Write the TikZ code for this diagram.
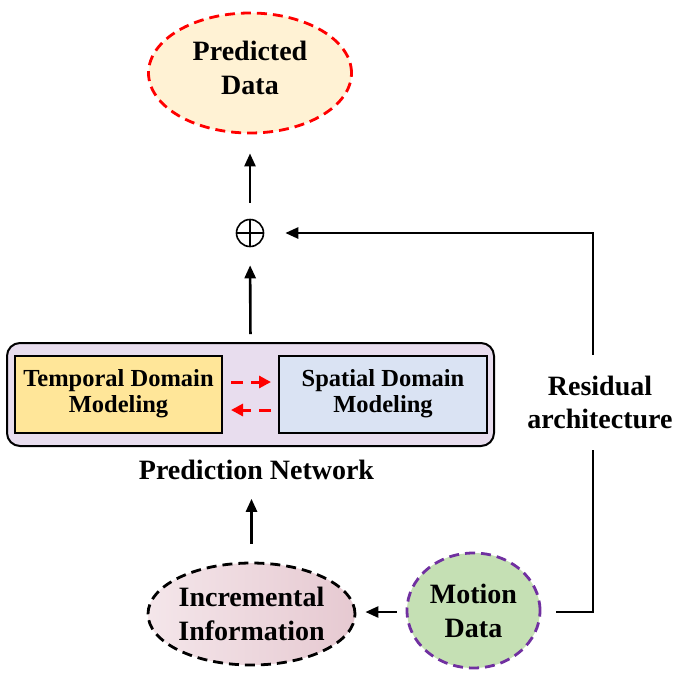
\documentclass[tikz,border=0pt]{standalone}
\usepackage{fontspec}
\setmainfont{Liberation Serif}
\usetikzlibrary{shapes.geometric,arrows.meta}
\definecolor{cream}{HTML}{FFF2D4}
\definecolor{gold}{HTML}{FFE699}
\definecolor{paleblue}{HTML}{DAE3F3}
\definecolor{lav}{HTML}{E8DDEE}
\definecolor{palegreen}{HTML}{C5E0B4}
\definecolor{pinkL}{HTML}{F4E6EA}
\definecolor{pinkR}{HTML}{E6C9D1}
\definecolor{purp}{HTML}{7030A0}
\begin{document}
\begin{tikzpicture}[x=1pt,y=-1pt,
  arr/.style={line width=2.6pt,line join=miter,-{Triangle[length=13pt,width=11pt]}},
  redarr/.style={line width=3pt,draw=red,dash pattern=on 12pt off 8pt,-{Triangle[length=12pt,width=12pt]}},
  ell/.style={ellipse,inner sep=0pt,line width=2.8pt,align=center,font=\fontsize{28}{34}\selectfont\bfseries},
  boxs/.style={draw,line width=2pt,minimum width=207pt,minimum height=77pt,inner sep=0pt,align=center,font=\fontsize{24.5}{26}\selectfont\bfseries},
  lbl/.style={align=center,font=\fontsize{28}{33}\selectfont\bfseries}]
\useasboundingbox (0,0) rectangle (698,673);
% top ellipse
\node[ell,draw=red,dash pattern=on 10pt off 6pt,fill=cream,minimum width=203pt,minimum height=120pt,text depth=11pt] (pred) at (250,73) {Predicted\\Data};
% plus
\node[circle,draw,line width=1.6pt,minimum size=27pt,inner sep=0pt] (plus) at (250,233) {};
\draw[line width=1.6pt] (plus.north) -- (plus.south) (plus.west) -- (plus.east);
% network box
\node[draw,rounded corners=13pt,fill=lav,line width=2pt,minimum width=487pt,minimum height=103pt] (net) at (250.5,394.5) {};
\node[boxs,fill=gold] (temp) at (118.5,394) {Temporal Domain\\Modeling};
\node[boxs,fill=paleblue,minimum width=208pt] (spat) at (383,394) {Spatial Domain\\Modeling};
\draw[redarr] ([xshift=8pt,yshift=12pt]temp.east) -- ([xshift=-7pt,yshift=12pt]spat.west);
\draw[redarr] ([xshift=-7pt,yshift=-16pt]spat.west) -- ([xshift=8pt,yshift=-16pt]temp.east);
\node[lbl,anchor=base] (pnl) at (256.5,479) {Prediction Network};
% bottom ellipses
\node[ell,draw=black,dash pattern=on 10pt off 6pt,left color=pinkL,right color=pinkR,minimum width=207pt,minimum height=102pt] (incr) at (251.5,614) {Incremental\\Information};
\node[ell,draw=purp,dash pattern=on 10pt off 6pt,fill=palegreen,minimum width=133pt,minimum height=115pt] (motion) at (473.5,610.5) {Motion\\Data};
% residual label
\node[lbl,fill=white,inner sep=0pt,minimum height=95pt] (res) at (600,402.5) {Residual\\architecture};
\coordinate (c1) at (593,612);
\coordinate (c2) at (593,233);
% connectors
\draw[arr,shorten <=16pt,shorten >=19pt] (plus.north) -- (pred.south);
\draw[arr,shorten <=8pt,shorten >=18pt] (net.north) -- (plus.south);
\draw[arr,shorten <=18pt,shorten >=16pt] (incr.north) -- (incr.north |- pnl.south);
\draw[arr,shorten <=9pt,shorten >=9pt] (motion.west |- c1) -- (c1 -| incr.east);
\draw[line width=2.6pt,line join=miter,shorten <=15pt] (c1 -| motion.east) -- (c1) -- (c1 |- res.south);
\draw[arr,shorten >=21pt] (c1 |- res.north) -- (c2) -- (plus.east);
\end{tikzpicture}
\end{document}
